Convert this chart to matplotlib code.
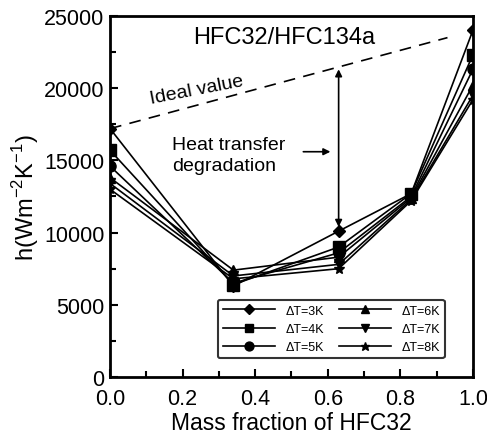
import numpy as np
import matplotlib.pyplot as plt

plt.rcParams['font.family'] = ['Liberation Sans', 'DejaVu Sans']
plt.rcParams['mathtext.fontset'] = 'custom'
plt.rcParams['mathtext.rm'] = 'Liberation Sans'

x = [0.0, 0.34, 0.63, 0.83, 1.0]
labels = ['\u0394T=3K', '\u0394T=4K', '\u0394T=5K', '\u0394T=6K', '\u0394T=7K', '\u0394T=8K']
markers = ['D', 's', 'o', '^', 'v', '*']
msizes = [6, 8, 8, 7, 7, 8]
h3 = [17200, 6300, 10100, 12700, 24000]
h4 = [15700, 6400, 9000, 12700, 22300]
h5 = [14600, 6500, 8600, 12500, 21300]
h6 = [13800, 7400, 8300, 12400, 20200]
h7 = [13400, 7000, 7800, 12300, 19500]
h8 = [13000, 6800, 7500, 12200, 19200]
series = [h3, h4, h5, h6, h7, h8]

ideal_x = [0.0, 0.93]
ideal_y = [17200, 23500]

fig = plt.figure(figsize=(4.87, 4.35), dpi=100)
ax = fig.add_axes([0.226, 0.131, 0.745, 0.830])

for h, lab, m, ms in zip(series, labels, markers, msizes):
    ax.plot(x, h, color='black', lw=1.2, marker=m, ms=ms, label=lab)

ax.plot(ideal_x, ideal_y, color='black', lw=1.2, dashes=(7, 5))
ax.text(0.115, 18700, 'Ideal value', fontsize=14, rotation=11, ha='left', va='bottom',
        rotation_mode='anchor')

# degradation arrow
ax.annotate('', xy=(0.63, 10200), xytext=(0.63, 21500),
            arrowprops=dict(arrowstyle='<|-|>', color='black', lw=1.2, mutation_scale=10))
ax.text(0.17, 15400, 'Heat transfer\ndegradation', fontsize=14, ha='left', va='center',
        linespacing=1.3)
ax.annotate('', xy=(0.615, 15600), xytext=(0.525, 15600),
            arrowprops=dict(arrowstyle='-|>', color='black', lw=1.2, mutation_scale=10))

ax.text(0.48, 23550, 'HFC32/HFC134a', fontsize=17, ha='center', va='center')

ax.set_xlim(0, 1.0)
ax.set_ylim(0, 25000)
ax.set_xticks(np.arange(0, 1.01, 0.2))
ax.set_xticks(np.arange(0.1, 1.0, 0.2), minor=True)
ax.set_yticks(np.arange(0, 25001, 5000))
ax.set_yticks(np.arange(2500, 25000, 5000), minor=True)
ax.set_xticklabels(['0.0', '0.2', '0.4', '0.6', '0.8', '1.0'])
ax.tick_params(which='both', direction='in', width=1.5, labelsize=15.5)
ax.tick_params(which='major', length=6)
ax.tick_params(which='minor', length=4)
ax.tick_params(axis='x', pad=8)
ax.tick_params(axis='y', pad=4)
for s in ax.spines.values():
    s.set_linewidth(2)

ax.set_xlabel('Mass fraction of HFC32', fontsize=16.5, labelpad=1)
ax.set_ylabel('h(Wm$^{-2}$K$^{-1}$)', fontsize=17, labelpad=2)

leg = ax.legend(ncol=2, loc='lower left', bbox_to_anchor=(0.28, 0.035, 0.66, 0.18),
                mode='expand', fontsize=9, frameon=True, edgecolor='black',
                fancybox=True, handlelength=4.2, markerscale=0.8, borderpad=0.4,
                labelspacing=0.5, columnspacing=1.0)
leg.get_frame().set_linewidth(1.5)

fig.savefig('out.png', dpi=100)
